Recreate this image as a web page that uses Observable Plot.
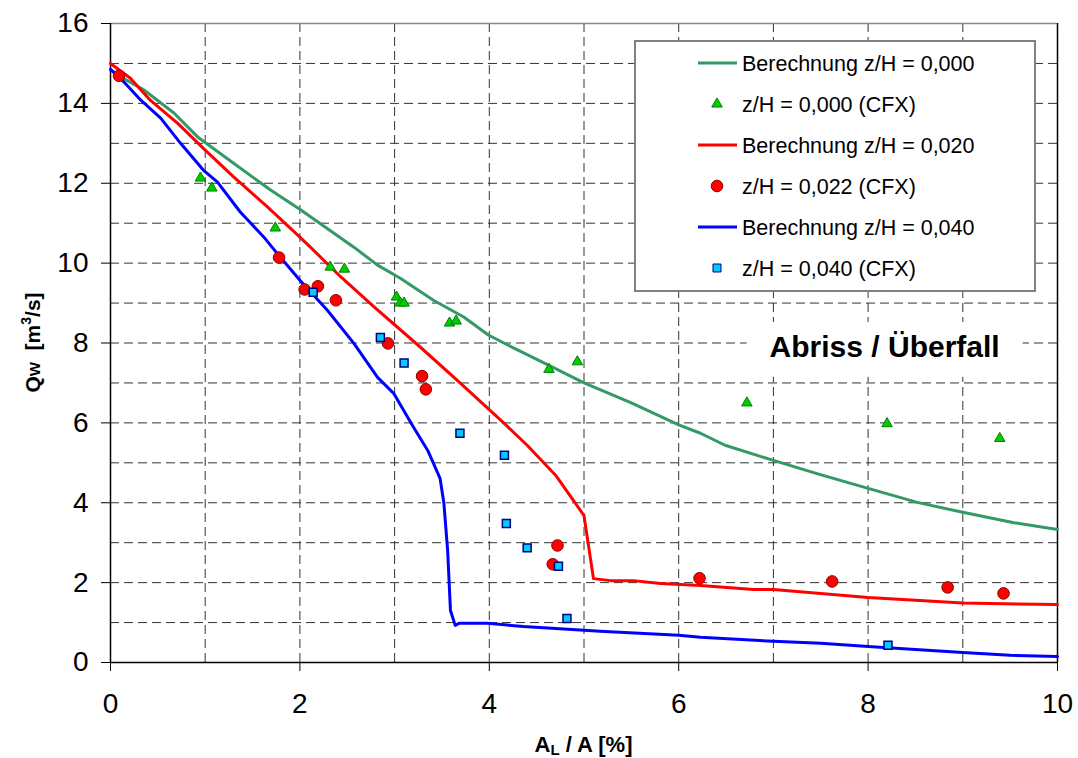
<!DOCTYPE html>
<html>
<head>
<meta charset="utf-8">
<script src="https://cdn.jsdelivr.net/npm/d3@7"></script>
<script src="https://cdn.jsdelivr.net/npm/@observablehq/plot@0.6"></script>
<style>
  body { margin: 0; background: #fff; }
  #chart { position: relative; width: 1078px; height: 758px; }
  svg { font-family: "Liberation Sans", Arial, sans-serif; }
</style>
</head>
<body>
<div id="chart"></div>
<script>
// ---- Data (A_L / A [%], Q_W [m^3/s]) ----
const calc000 = [[0,14.85],[0.08,14.7],[0.35,14.34],[0.67,13.76],[0.92,13.16],[1.30,12.5],[1.69,11.83],[2.01,11.33],[2.57,10.4],[2.82,9.95],[3.06,9.62],[3.41,9.07],[3.73,8.65],[3.99,8.2],[4.26,7.87],[4.63,7.44],[5.0,7.0],[5.5,6.5],[6.0,5.95],[6.23,5.74],[6.49,5.44],[7.0,5.06],[7.46,4.73],[8.0,4.36],[8.52,4.01],[9.0,3.76],[9.54,3.5],[10,3.33]];
const calc020 = [[0,15.0],[0.21,14.63],[0.42,14.08],[0.71,13.5],[1.0,12.83],[1.3,12.16],[1.66,11.4],[2.0,10.65],[2.11,10.4],[2.43,9.66],[2.78,8.91],[3.27,7.9],[3.70,6.98],[4.12,6.07],[4.40,5.44],[4.70,4.69],[5.0,3.68],[5.10,2.1],[5.28,2.05],[5.52,2.05],[5.81,1.98],[6.23,1.93],[6.79,1.83],[7.0,1.83],[7.5,1.73],[8.0,1.63],[9.0,1.49],[10,1.45]];
const calc040 = [[0,14.85],[0.14,14.54],[0.32,14.08],[0.53,13.63],[0.74,13.0],[0.98,12.33],[1.13,12.03],[1.37,11.28],[1.62,10.65],[1.74,10.3],[2.0,9.57],[2.29,8.82],[2.57,7.99],[2.82,7.14],[2.99,6.74],[3.2,5.89],[3.35,5.31],[3.48,4.61],[3.52,4.0],[3.56,2.81],[3.59,1.3],[3.64,0.93],[3.68,0.98],[3.98,0.98],[4.36,0.9],[5.17,0.78],[6.0,0.68],[6.23,0.63],[7.0,0.53],[7.5,0.48],[8.0,0.4],[9.0,0.25],[9.5,0.18],[10,0.15]];
const cfx000 = [[0.95,12.13],[1.07,11.88],[1.74,10.88],[2.32,9.9],[2.47,9.85],[3.02,9.15],[3.06,9.0],[3.1,9.0],[3.58,8.5],[3.65,8.55],[4.63,7.34],[4.93,7.53],[6.72,6.5],[8.2,5.98],[9.39,5.61]];
const cfx022 = [[0.09,14.69],[1.78,10.14],[2.05,9.34],[2.19,9.42],[2.38,9.07],[2.93,7.99],[3.29,7.17],[3.33,6.84],[4.67,2.46],[4.72,2.93],[6.22,2.11],[7.62,2.03],[8.84,1.88],[9.43,1.73]];
const cfx040 = [[2.14,9.27],[2.85,8.14],[3.10,7.5],[3.69,5.74],[4.16,5.19],[4.18,3.48],[4.40,2.87],[4.73,2.41],[4.82,1.1],[8.21,0.43]];

const xTicks = [0, 2, 4, 6, 8, 10];
const yTicks = [0, 2, 4, 6, 8, 10, 12, 14, 16];
const xGrid = [1, 2, 3, 4, 5, 6, 7, 8, 9];
const yGrid = [1, 2, 3, 4, 5, 6, 7, 8, 9, 10, 11, 12, 13, 14, 15];

const legendLabels = ["Berechnung z/H = 0,000", "z/H = 0,000 (CFX)", "Berechnung z/H = 0,020", "z/H = 0,022 (CFX)", "Berechnung z/H = 0,040", "z/H = 0,040 (CFX)"];
const annotations = [{x: 8.18, y: 7.89, text: "Abriss / Überfall"}];

// ---- Styles ----
const st = {
  calc000: {stroke: "#339966"},
  calc020: {stroke: "#ff0000"},
  calc040: {stroke: "#0000ff"},
  cfx000: {symbol: "triangle", r: 3.9, fill: "#00cc00", stroke: "#008000"},
  cfx022: {symbol: "circle", r: 5.8, fill: "#ff0000", stroke: "#8b0000"},
  cfx040: {symbol: "square", r: 4.5, fill: "#00ccff", stroke: "#000080"}
};

const gx = d => d[0], gy = d => d[1];
const dash = {stroke: "#333", strokeWidth: 1, strokeDasharray: "9,5"};

const plot = Plot.plot({
  width: 1078, height: 758,
  marginLeft: 110, marginRight: 21, marginTop: 23, marginBottom: 96,
  x: {domain: [0, 10]},
  y: {domain: [0, 16]},
  style: {fontFamily: '"Liberation Sans", Arial, sans-serif', background: "#fff", color: "#000"},
  marks: [
    Plot.ruleX(xGrid, dash),
    Plot.ruleY(yGrid, dash),
    Plot.ruleY([16], {stroke: "#888", strokeWidth: 1.5}),
    Plot.ruleX([10], {stroke: "#000", strokeWidth: 1.5}),
    Plot.axisX({ticks: xTicks, tickSize: 9, tickPadding: 22, fontSize: 28, label: null, stroke: "#000"}),
    Plot.axisY({ticks: yTicks, tickSize: 9, tickPadding: 13, fontSize: 28, label: null, stroke: "#000"}),
    Plot.ruleX([0], {stroke: "#000", strokeWidth: 1.5}),
    Plot.ruleY([0], {stroke: "#000", strokeWidth: 1.5}),
    Plot.line(calc000, {x: gx, y: gy, stroke: st.calc000.stroke, strokeWidth: 3}),
    Plot.line(calc020, {x: gx, y: gy, stroke: st.calc020.stroke, strokeWidth: 3}),
    Plot.line(calc040, {x: gx, y: gy, stroke: st.calc040.stroke, strokeWidth: 3}),
    Plot.dot(cfx000, {x: gx, y: gy, symbol: "triangle", r: st.cfx000.r, fill: st.cfx000.fill, stroke: st.cfx000.stroke, strokeWidth: 1}),
    Plot.dot(cfx022, {x: gx, y: gy, symbol: "circle", r: st.cfx022.r, fill: st.cfx022.fill, stroke: st.cfx022.stroke, strokeWidth: 1}),
    Plot.dot(cfx040, {x: gx, y: gy, symbol: "square", r: st.cfx040.r, fill: st.cfx040.fill, stroke: st.cfx040.stroke, strokeWidth: 1.5})
  ]
});
document.getElementById("chart").appendChild(plot);

const svg = d3.select(plot);
const sx = plot.scale("x"), sy = plot.scale("y");
const x0 = sx.apply(0), x1 = sx.apply(10), y0 = sy.apply(0), y1 = sy.apply(16);

// Annotation with white background
annotations.forEach(a => {
  const cx = sx.apply(a.x), cy = sy.apply(a.y);
  svg.append("rect").attr("x", cx - 138).attr("y", cy - 25).attr("width", 276).attr("height", 55).attr("fill", "#fff");
  svg.append("text").attr("x", cx).attr("y", cy).attr("dy", "0.35em")
    .attr("text-anchor", "middle").attr("font-size", 30).attr("font-weight", "bold").text(a.text);
});

// X title
const xt = svg.append("text").attr("x", (x0 + x1) / 2).attr("y", 752)
  .attr("text-anchor", "middle").attr("font-size", 22).attr("font-weight", "bold");
xt.append("tspan").text("A");
xt.append("tspan").attr("font-size", 15).attr("dy", 3).text("L");
xt.append("tspan").attr("dy", -3).text("\u00a0/ A [%]");

// Y title
const yt = svg.append("text").attr("transform", `translate(40,${(y0 + y1) / 2}) rotate(-90)`)
  .attr("text-anchor", "middle").attr("font-size", 21).attr("font-weight", "bold");
yt.append("tspan").text("Q");
yt.append("tspan").attr("font-size", 15).text("W");
yt.append("tspan").text("\u00a0\u00a0[m");
yt.append("tspan").attr("font-size", 14).attr("dy", -9).text("3");
yt.append("tspan").attr("dy", 9).text("/s]");

// Legend box
const lg = svg.append("g").attr("transform", "translate(635,41)");
lg.append("rect").attr("width", 400).attr("height", 250).attr("fill", "#fff").attr("stroke", "#808080").attr("stroke-width", 2);
const rowY = i => 22 + i * 41;
const kinds = [
  {type: "line", ...st.calc000},
  {type: "dot", ...st.cfx000, sym: d3.symbolTriangle},
  {type: "line", ...st.calc020},
  {type: "dot", ...st.cfx022, sym: d3.symbolCircle},
  {type: "line", ...st.calc040},
  {type: "dot", ...st.cfx040, sym: d3.symbolSquare}
];
legendLabels.forEach((lab, i) => {
  const k = kinds[i], y = rowY(i);
  if (k.type === "line") {
    lg.append("line").attr("x1", 63).attr("x2", 102).attr("y1", y).attr("y2", y).attr("stroke", k.stroke).attr("stroke-width", 3);
  } else {
    lg.append("path").attr("transform", `translate(82,${y})`)
      .attr("d", d3.symbol(k.sym, k.r * k.r * Math.PI)())
      .attr("fill", k.fill).attr("stroke", k.stroke).attr("stroke-width", 1);
  }
  lg.append("text").attr("x", 107).attr("y", y).attr("dy", "0.35em").attr("text-anchor", "start").attr("font-size", 21.5).text(lab);
});
</script>
</body>
</html>
